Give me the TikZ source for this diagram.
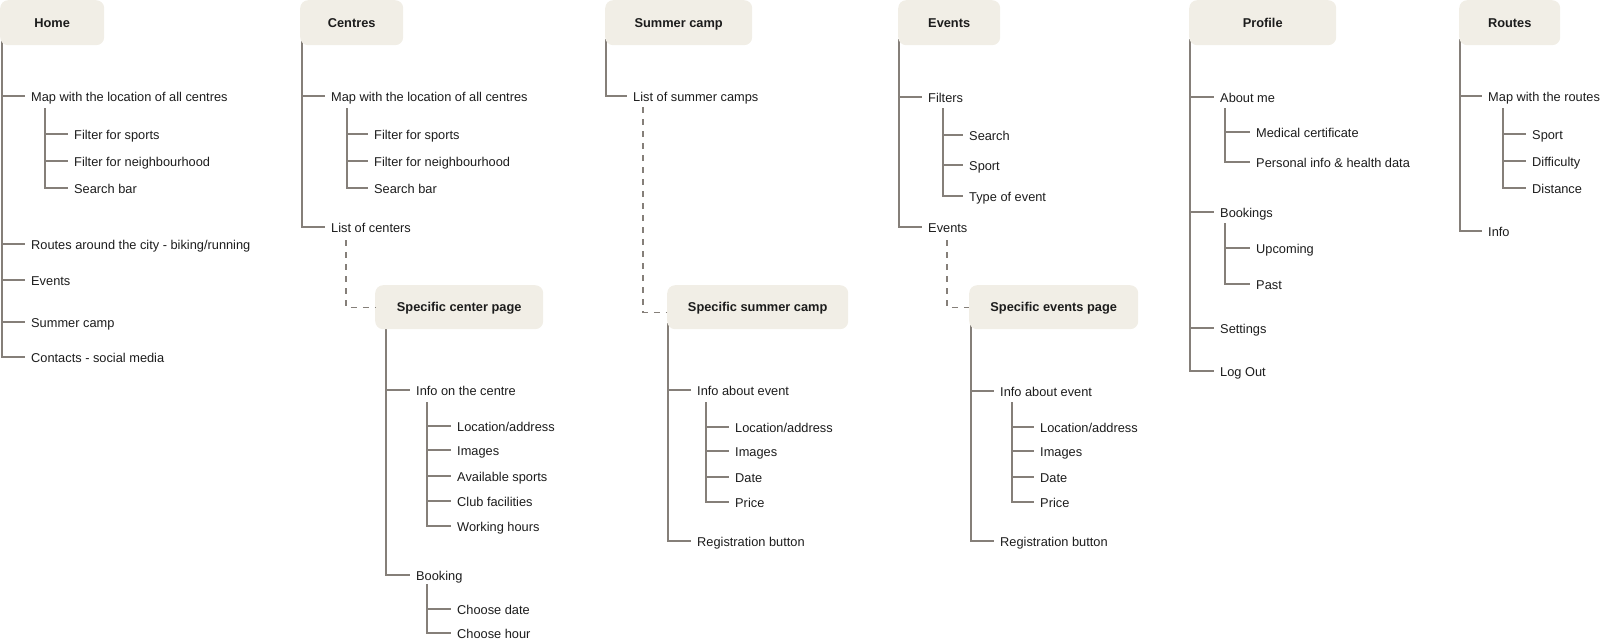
\documentclass[tikz,border=0pt]{standalone}
\usepackage{fontspec}
\setmainfont{Liberation Sans}
\usetikzlibrary{calc,backgrounds}

\definecolor{pagefill}{HTML}{F1EEE6}
\definecolor{linkgray}{HTML}{857F79}
\definecolor{inkblack}{HTML}{1C1C1C}

\tikzset{
  page/.style={anchor=north west,fill=pagefill,rounded corners=8pt,
    minimum height=45pt,inner sep=0pt,text=inkblack,text depth=0pt,
    font=\fontsize{12.8}{15}\selectfont\bfseries},
  item/.style={anchor=west,inner xsep=6pt,inner ysep=0pt,
    text height=1.9ex,text depth=0pt,text=inkblack,
    font=\fontsize{12.8}{15}\selectfont},
  link/.style={draw=linkgray,line width=1.6pt},
  jump/.style={link,line width=1.4pt,dash pattern=on 6pt off 6pt}
}

\begin{document}
\begin{tikzpicture}[x=1pt,y=-1pt]
  \useasboundingbox (0,0) rectangle (1600,642);

  % top level pages
  \node[page,minimum width=104pt] (home) at (0,0) {Home};
  \node[page,minimum width=103pt] (centres) at (300,0) {Centres};
  \node[page,minimum width=147pt] (camp) at (605,0) {Summer camp};
  \node[page,minimum width=102pt] (events) at (898,0) {Events};
  \node[page,minimum width=147pt] (profile) at (1189,0) {Profile};
  \node[page,minimum width=101pt] (routes) at (1459,0) {Routes};

  % second level pages
  \node[page,minimum width=168pt,minimum height=44pt] (centrepage) at (375,285) {Specific center page};
  \node[page,minimum width=181pt,minimum height=44pt] (camppage) at (667,285) {Specific summer camp};
  \node[page,minimum width=169pt,minimum height=44pt] (eventpage) at (969,285) {Specific events page};

  % Home
  \node[item] (h1) at (25,96) {Map with the location of all centres};
  \node[item] (h11) at (68,134) {Filter for sports};
  \node[item] (h12) at (68,161) {Filter for neighbourhood};
  \node[item] (h13) at (68,188) {Search bar};
  \node[item] (h2) at (25,244) {Routes around the city - biking/running};
  \node[item] (h3) at (25,280) {Events};
  \node[item] (h4) at (25,322) {Summer camp};
  \node[item] (h5) at (25,357) {Contacts - social media};

  % Centres
  \node[item] (c1) at (325,96) {Map with the location of all centres};
  \node[item] (c11) at (368,134) {Filter for sports};
  \node[item] (c12) at (368,161) {Filter for neighbourhood};
  \node[item] (c13) at (368,188) {Search bar};
  \node[item] (c2) at (325,227) {List of centers};

  % Specific center page
  \node[item] (cp1) at (410,390) {Info on the centre};
  \node[item] (cp11) at (451,426) {Location/address};
  \node[item] (cp12) at (451,450) {Images};
  \node[item] (cp13) at (451,476) {Available sports};
  \node[item] (cp14) at (451,501) {Club facilities};
  \node[item] (cp15) at (451,526) {Working hours};
  \node[item] (cp2) at (410,575) {Booking};
  \node[item] (cp21) at (451,609) {Choose date};
  \node[item] (cp22) at (451,633) {Choose hour};

  % Summer camp
  \node[item] (s1) at (627,96) {List of summer camps};

  % Specific summer camp
  \node[item] (sp1) at (691,390) {Info about event};
  \node[item] (sp11) at (729,427) {Location/address};
  \node[item] (sp12) at (729,451) {Images};
  \node[item] (sp13) at (729,477) {Date};
  \node[item] (sp14) at (729,502) {Price};
  \node[item] (sp2) at (691,541) {Registration button};

  % Events
  \node[item] (e1) at (922,97) {Filters};
  \node[item] (e11) at (963,135) {Search};
  \node[item] (e12) at (963,165) {Sport};
  \node[item] (e13) at (963,196) {Type of event};
  \node[item] (e2) at (922,227) {Events};

  % Specific events page
  \node[item] (ep1) at (994,391) {Info about event};
  \node[item] (ep11) at (1034,427) {Location/address};
  \node[item] (ep12) at (1034,451) {Images};
  \node[item] (ep13) at (1034,477) {Date};
  \node[item] (ep14) at (1034,502) {Price};
  \node[item] (ep2) at (994,541) {Registration button};

  % Profile
  \node[item] (p1) at (1214,97) {About me};
  \node[item] (p11) at (1250,132) {Medical certificate};
  \node[item] (p12) at (1250,162) {Personal info \& health data};
  \node[item] (p2) at (1214,212) {Bookings};
  \node[item] (p21) at (1250,248) {Upcoming};
  \node[item] (p22) at (1250,284) {Past};
  \node[item] (p3) at (1214,328) {Settings};
  \node[item] (p4) at (1214,371) {Log Out};

  % Routes
  \node[item] (r1) at (1482,96) {Map with the routes};
  \node[item] (r11) at (1526,134) {Sport};
  \node[item] (r12) at (1526,161) {Difficulty};
  \node[item] (r13) at (1526,188) {Distance};
  \node[item] (r2) at (1482,231) {Info};

  % tree lines
  \begin{scope}[on background layer]
    \coordinate (hT) at ($(home.south west)+(2,-6)$);
    \coordinate (cT) at ($(centres.south west)+(2,-6)$);
    \coordinate (sT) at ($(camp.south west)+(1,-6)$);
    \coordinate (eT) at ($(events.south west)+(1,-6)$);
    \coordinate (pT) at ($(profile.south west)+(1,-6)$);
    \coordinate (rT) at ($(routes.south west)+(1,-6)$);
    \coordinate (cpT) at ($(centrepage.south west)+(11,-6)$);
    \coordinate (spT) at ($(camppage.south west)+(1,-6)$);
    \coordinate (epT) at ($(eventpage.south west)+(2,-6)$);

    \foreach \n in {h1,h2,h3,h4,h5} \draw[link] (hT) |- (\n.west);
    \foreach \n in {c1,c2} \draw[link] (cT) |- (\n.west);
    \draw[link] (sT) |- (s1.west);
    \foreach \n in {e1,e2} \draw[link] (eT) |- (\n.west);
    \foreach \n in {p1,p2,p3,p4} \draw[link] (pT) |- (\n.west);
    \foreach \n in {r1,r2} \draw[link] (rT) |- (\n.west);
    \foreach \n in {cp1,cp2} \draw[link] (cpT) |- (\n.west);
    \foreach \n in {sp1,sp2} \draw[link] (spT) |- (\n.west);
    \foreach \n in {ep1,ep2} \draw[link] (epT) |- (\n.west);

    % second level branches
    \foreach \n in {h11,h12,h13} \draw[link] (45,108) |- (\n.west);
    \foreach \n in {c11,c12,c13} \draw[link] (347,108) |- (\n.west);
    \foreach \n in {cp11,cp12,cp13,cp14,cp15} \draw[link] (427,402) |- (\n.west);
    \foreach \n in {cp21,cp22} \draw[link] (427,584) |- (\n.west);
    \foreach \n in {sp11,sp12,sp13,sp14} \draw[link] (706,402) |- (\n.west);
    \foreach \n in {e11,e12,e13} \draw[link] (943,108) |- (\n.west);
    \foreach \n in {ep11,ep12,ep13,ep14} \draw[link] (1012,402) |- (\n.west);
    \foreach \n in {p11,p12} \draw[link] (1225,108) |- (\n.west);
    \foreach \n in {p21,p22} \draw[link] (1225,223) |- (\n.west);
    \foreach \n in {r11,r12,r13} \draw[link] (1503,108) |- (\n.west);
  \end{scope}

  % links to the detail pages
  \coordinate (cJ) at (346,240);
  \coordinate (sJ) at (643,107);
  \coordinate (eJ) at (947,240);
  \draw[jump] (cJ) |- (centrepage.west);
  \draw[jump] (sJ) |- ($(camppage.west)+(0,5)$);
  \draw[jump] (eJ) |- (eventpage.west);
\end{tikzpicture}
\end{document}
